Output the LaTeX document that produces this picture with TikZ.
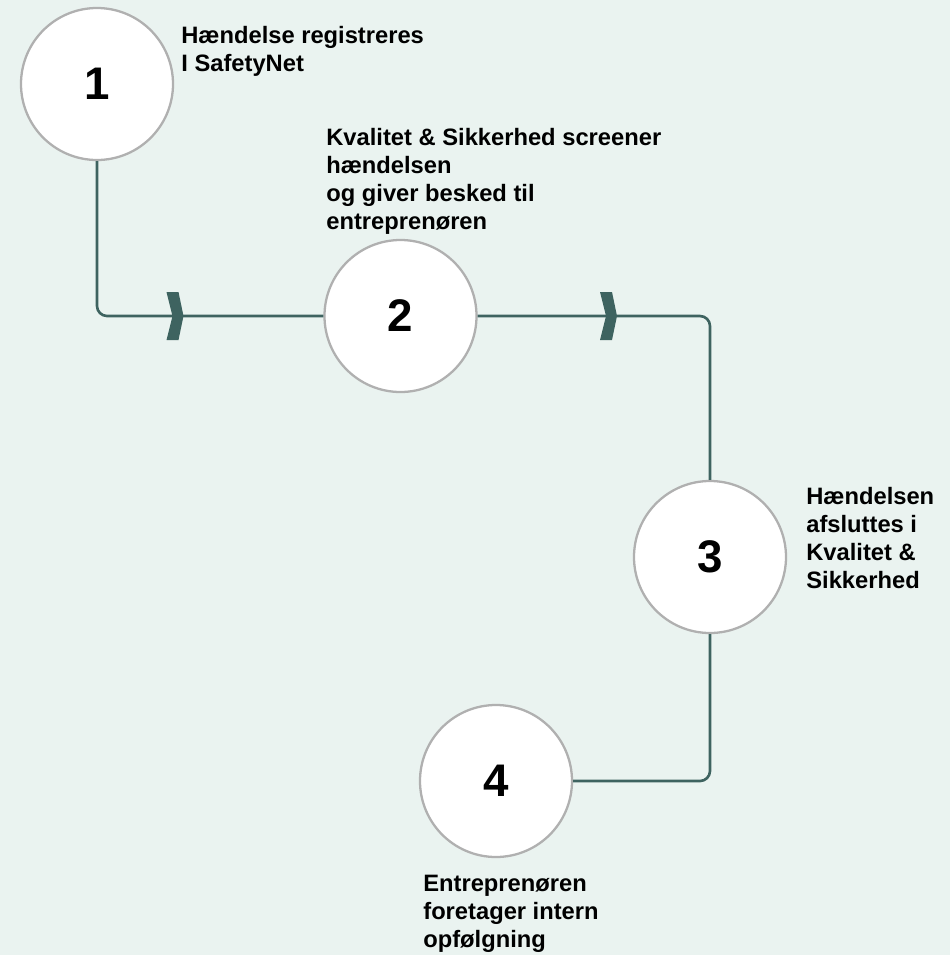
\documentclass[tikz,border=0pt]{standalone}
\usepackage{fontspec}
\setmainfont{Liberation Sans}
\usetikzlibrary{positioning,calc}
\definecolor{bgmint}{RGB}{234,243,240}
\definecolor{flowteal}{RGB}{62,99,96}
\definecolor{ringgray}{RGB}{176,176,176}
\tikzset{
    % Step circle style
    stepcircle/.style={
        circle, draw=ringgray, line width=1.3pt, fill=white,
        minimum size=3.04cm, inner sep=0pt,
        font=\fontsize{26}{30}\selectfont\bfseries
    },
    % Step text style
    steptext/.style={
        rectangle, draw=none, fill=none, inner sep=0pt,
        anchor=north west, align=left,
        font=\fontsize{13.5}{15.9}\selectfont\bfseries
    },
    % Connector line style
    flowline/.style={
        draw=flowteal, line width=1.5pt, rounded corners=0.2cm
    },
    % Chevron marker style
    chevron/.style={
        fill=flowteal, draw=none
    }
}
\newcommand{\chevronat}[1]{%
    \fill[chevron] (#1) -- ++(-0.1,0.48) -- ++(-0.24,0) -- ++(0.12,-0.48)
        -- ++(-0.12,-0.48) -- ++(0.24,0) -- cycle;
}

\begin{document}
\begin{tikzpicture}

\fill[bgmint] (0,0) rectangle (19,-19.1);
\useasboundingbox (0,0) rectangle (19,-19.1);

% Steps
\node[stepcircle] (c1) at (1.94,-1.68) {1};
\node[stepcircle] (c2) at (8.01,-6.32) {2};
\node[stepcircle] (c3) at (14.2,-11.14) {3};
\node[stepcircle] (c4) at (9.92,-15.62) {4};

% Connectors
\draw[flowline] (c1.south) |- (c2.west);
\draw[flowline] (c2.east) -| (c3.north);
\draw[flowline] (c3.south) |- (c4.east);

% Chevrons
\coordinate (chev1) at (3.67,-6.32);
\coordinate (chev2) at (12.34,-6.32);
\chevronat{chev1}
\chevronat{chev2}

% Step texts
\node[steptext] (t1) at (3.62,-0.52) {Hændelse registreres\\I SafetyNet};
\node[steptext] (t2) at (6.52,-2.56) {Kvalitet \& Sikkerhed screener\\hændelsen\\og giver besked til\\entreprenøren};
\node[steptext] (t3) at (16.12,-9.74) {Hændelsen\\afsluttes i\\Kvalitet \&\\Sikkerhed};
\node[steptext] (t4) at (8.46,-17.5) {Entreprenøren\\foretager intern\\opfølgning};

\end{tikzpicture}
\end{document}
